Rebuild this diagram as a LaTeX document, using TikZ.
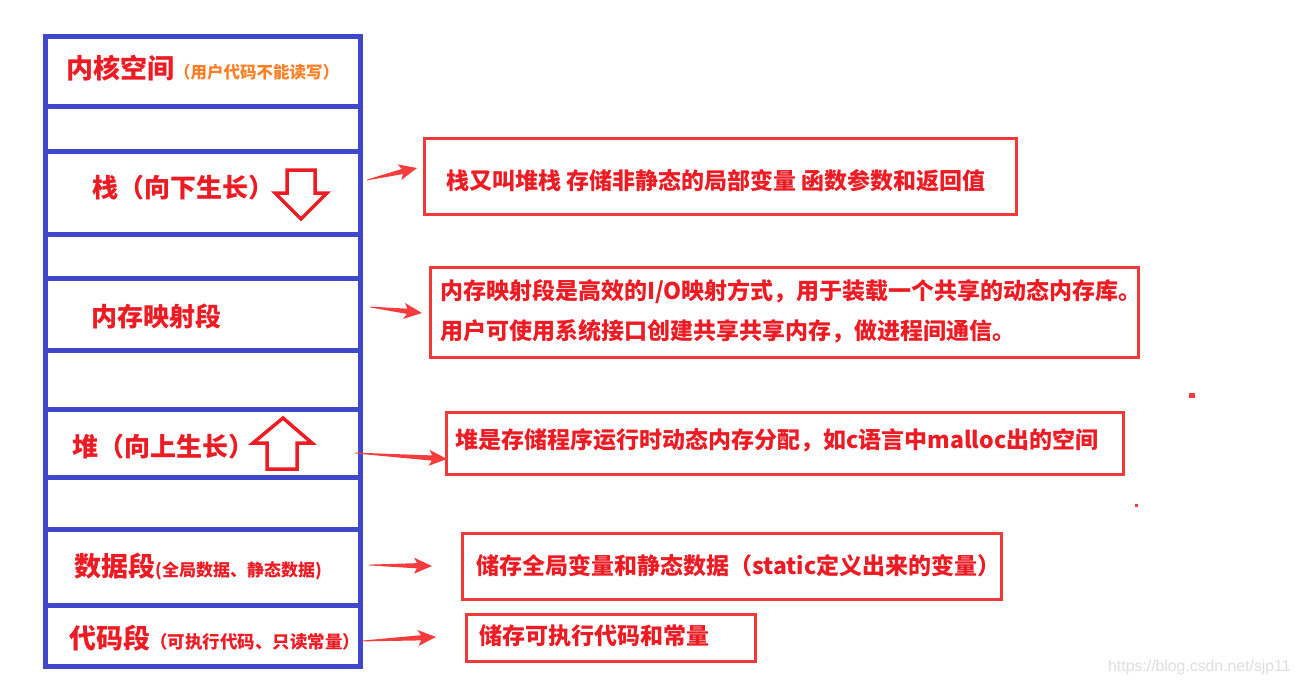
\documentclass[tikz,border=0pt]{standalone}
\usepackage{fontspec}
\setmainfont{Noto Sans CJK SC}
\newfontfamily\wmfont{Liberation Sans}
\usetikzlibrary{calc}
\definecolor{cblue}{HTML}{3F48CC}
\definecolor{cred}{HTML}{ED1C24}
\definecolor{bred}{HTML}{F03A3A}
\definecolor{ared}{HTML}{F53C3C}
\definecolor{corange}{HTML}{FF7F27}
\tikzset{
  cell/.style={draw=cblue, line width=5pt, anchor=north west, inner sep=0pt, outer sep=0pt, minimum width=315pt},
  rbox/.style={draw=bred, line width=3pt, anchor=north west, inner sep=0pt, outer sep=0pt},
  ltext/.style={anchor=west, inner sep=0pt, text=cred, font=\bfseries},
  rtext/.style={anchor=west, inner sep=0pt, text=cred, font=\bfseries\fontsize{23}{26}\selectfont},
  growarrow/.style={draw=cred, line width=3.5pt, line join=miter},
  taper/.style={to path={let \p1=(\tikztostart), \p2=(\tikztotarget),
      \n1={atan2(\y2-\y1,\x2-\x1)}, \n2={veclen(\x2-\x1,\y2-\y1)} in
      ($(\p1)+(\n1+90:0.4pt)$)
      -- ($(\p1)+(\n1:{\n2-15pt})+(\n1+90:2.6pt)$)
      -- ($(\p1)+(\n1:{\n2-18pt})+(\n1+90:8pt)$)
      -- (\p2)
      -- ($(\p1)+(\n1:{\n2-18pt})+(\n1-90:8pt)$)
      -- ($(\p1)+(\n1:{\n2-15pt})+(\n1-90:2.6pt)$)
      -- ($(\p1)+(\n1-90:0.4pt)$) -- cycle}}
}
\begin{document}
\begin{tikzpicture}[x=1pt,y=-1pt]
\useasboundingbox (0,0) rectangle (1299,686);
\fill[white] (0,0) rectangle (1299,686);

% left column cells
\node[cell, minimum height=70pt] (kern) at (45,36) {};
\node[cell, minimum height=45pt] (gap1) at (45,106) {};
\node[cell, minimum height=83pt] (stack) at (45,151) {};
\node[cell, minimum height=44pt] (gap2) at (45,234) {};
\node[cell, minimum height=72pt] (mmap) at (45,278) {};
\node[cell, minimum height=59pt] (gap3) at (45,350) {};
\node[cell, minimum height=68pt] (heap) at (45,409) {};
\node[cell, minimum height=52pt] (gap4) at (45,477) {};
\node[cell, minimum height=76pt] (data) at (45,529) {};
\node[cell, minimum height=61pt] (code) at (45,605) {};

% left labels
\node[ltext] (tkern) at (66,68) {{\fontsize{27}{30}\selectfont 内核空间}{\fontsize{16.5}{20}\selectfont\color{corange}（用户代码不能读写）}};
\node[ltext] (tstack) at (92,188) {\fontsize{26}{29}\selectfont 栈（向下生长）};
\node[ltext] (tmmap) at (91,316) {\fontsize{26}{29}\selectfont 内存映射段};
\node[ltext] (theap) at (72,447) {\fontsize{26}{29}\selectfont 堆（向上生长）};
\node[ltext] (tdata) at (74,566) {{\fontsize{27}{30}\selectfont 数据段}{\fontsize{17}{20}\selectfont (全局数据、静态数据)}};
\node[ltext] (tcode) at (69,638) {{\fontsize{27}{30}\selectfont 代码段}{\fontsize{17.5}{20}\selectfont （可执行代码、只读常量）}};

% growth arrows
\draw[growarrow] (287,170) -- (315,170) -- (315,193) -- (327,193) -- (301,219) -- (275,193) -- (287,193) -- cycle;
\draw[growarrow] (283,418) -- (312,443) -- (297,443) -- (297,469) -- (267,469) -- (267,443) -- (253,443) -- cycle;

% right boxes
\node[rbox, minimum width=592pt, minimum height=76pt] (b1) at (424,138) {};
\node[rbox, minimum width=708pt, minimum height=90pt] (b2) at (430,267) {};
\node[rbox, minimum width=677pt, minimum height=62pt] (b3) at (446,412) {};
\node[rbox, minimum width=539pt, minimum height=66pt] (b4) at (462,533) {};
\node[rbox, minimum width=289pt, minimum height=47pt] (b5) at (466,614) {};

\node[rtext] (r1) at (446,181) {栈又叫堆栈 存储非静态的局部变量 函数参数和返回值};
\node[rtext] (r2a) at (440,292) {内存映射段是高效的I/O映射方式，用于装载一个共享的动态内存库。};
\node[rtext] (r2b) at (440,331) {用户可使用系统接口创建共享共享内存，做进程间通信。};
\node[rtext] (r3) at (455,440) {堆是存储程序运行时动态内存分配，如c语言中malloc出的空间};
\node[rtext] (r4) at (476,566) {储存全局变量和静态数据（static定义出来的变量）};
\node[rtext] (r5) at (479,636) {储存可执行代码和常量};

% pointer arrows
\coordinate (a1s) at (367,180); \coordinate (a1e) at (417,168);
\coordinate (a2s) at (370,307); \coordinate (a2e) at (422,313);
\coordinate (a3s) at (355,453); \coordinate (a3e) at (447,459);
\coordinate (a4s) at (369,565); \coordinate (a4e) at (432,566);
\coordinate (a5s) at (362,641); \coordinate (a5e) at (436,637);
\fill[ared] (a1s) to[taper] (a1e);
\fill[ared] (a2s) to[taper] (a2e);
\fill[ared] (a3s) to[taper] (a3e);
\fill[ared] (a4s) to[taper] (a4e);
\fill[ared] (a5s) to[taper] (a5e);

% stray marks
\fill[ared] (1189,393) rectangle (1195,398);
\fill[ared] (1135,504) rectangle (1138,507);

% watermark
\node[anchor=west, inner sep=0pt, text=black!13, font=\wmfont\fontsize{15.8}{18}\selectfont] (wm) at (1108,667) {https://blog.csdn.net/sjp11};
\end{tikzpicture}
\end{document}
